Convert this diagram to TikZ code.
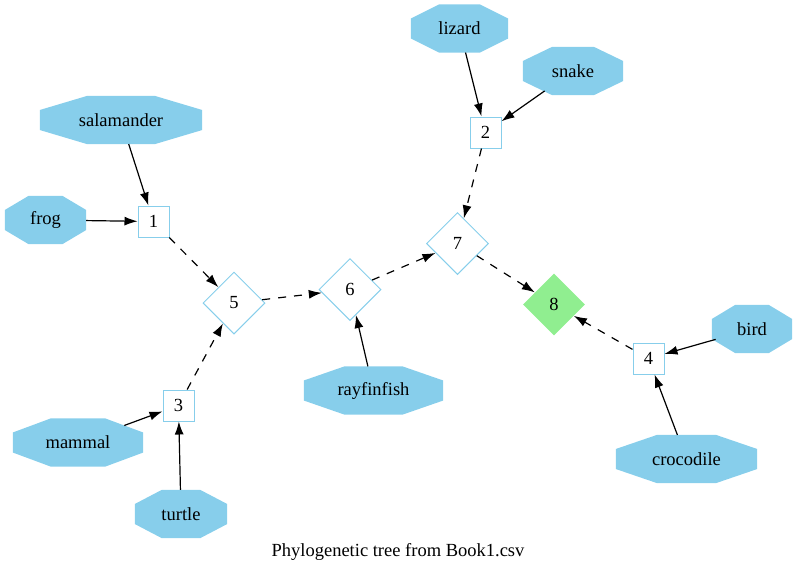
\documentclass[tikz,border=0pt]{standalone}
\usepackage{fontspec}
\setmainfont{Liberation Serif}
\usetikzlibrary{shapes.geometric,arrows.meta,calc}
\pgfdeclarelayer{background}
\pgfsetlayers{background,main}
\definecolor{sky}{HTML}{87CEEB}
\definecolor{lgreen}{HTML}{90EE90}
\begin{document}
\begin{tikzpicture}[x=1pt,y=-1pt,
  font=\fontsize{18.5}{21}\selectfont,
  leaf/.style={ellipse, inner sep=0pt, minimum width=#1, minimum height=48pt},
  box/.style={rectangle, draw=sky, line width=1pt, minimum size=31pt, inner sep=0pt},
  dia/.style={diamond, draw=sky, line width=1pt, minimum width=62pt, minimum height=62pt, inner sep=0pt},
  root/.style={diamond, fill=lgreen, minimum width=62pt, minimum height=62pt, inner sep=0pt},
  edge/.style={-{Latex[length=13pt,width=9pt]}, line width=1.2pt},
  dsh/.style={edge, dash pattern=on 8pt off 8pt}]
\useasboundingbox (0,0) rectangle (797,574);
% leaves
\node[leaf=97pt] (lizard) at (459.5,28.5) {lizard};
\node[leaf=100pt] (snake) at (573,71) {snake};
\node[leaf=162pt] (salamander) at (121,120) {salamander};
\node[leaf=81pt] (frog) at (45.5,220) {frog};
\node[leaf=130pt] (mammal) at (78,442.5) {mammal};
\node[leaf=92pt] (turtle) at (181,514) {turtle};
\node[leaf=139pt] (rayfinfish) at (373.5,390.5) {rayfinfish};
\node[leaf=80pt] (bird) at (752,329) {bird};
\node[leaf=141pt] (crocodile) at (686.5,459) {crocodile};
% internal
\node[box] (n1) at (153.5,221.5) {1};
\node[box] (n2) at (485.5,132.5) {2};
\node[box] (n3) at (178.5,405.5) {3};
\node[box] (n4) at (648.5,358.5) {4};
\node[dia] (n5) at (234,303) {5};
\node[dia] (n6) at (350,289.5) {6};
\node[dia] (n7) at (457.5,243.5) {7};
\node[root] (n8) at (554,304.5) {8};
\node (title) at (398,552) {Phylogenetic tree from Book1.csv};
% octagon fills
\def\fa{0.293}\def\fb{0.707}
\begin{pgfonlayer}{background}
\foreach \nm in {lizard,snake,salamander,frog,mammal,turtle,rayfinfish,bird,crocodile}{
  \fill[sky] let \p1=(\nm.west), \p2=(\nm.east), \p3=(\nm.north), \p4=(\nm.south) in
    ({\x1+\fa*(\x2-\x1)},\y3) -- ({\x1+\fb*(\x2-\x1)},\y3) --
    (\x2,{\y3+\fa*(\y4-\y3)}) -- (\x2,{\y3+\fb*(\y4-\y3)}) --
    ({\x1+\fb*(\x2-\x1)},\y4) -- ({\x1+\fa*(\x2-\x1)},\y4) --
    (\x1,{\y3+\fb*(\y4-\y3)}) -- (\x1,{\y3+\fa*(\y4-\y3)}) -- cycle;
}
\end{pgfonlayer}
% edges
\draw[edge] (lizard) -- (n2);
\draw[edge] (snake) -- (n2);
\draw[edge] (salamander) -- (n1);
\draw[edge] (frog) -- (n1);
\draw[edge] (mammal) -- (n3);
\draw[edge] (turtle) -- (n3);
\draw[edge] (bird) -- (n4);
\draw[edge] (crocodile) -- (n4);
\draw[edge] (rayfinfish) -- (n6);
\draw[dsh] (n1) -- (n5);
\draw[dsh] (n3) -- (n5);
\draw[dsh] (n5) -- (n6);
\draw[dsh] (n6) -- (n7);
\draw[dsh] (n2) -- (n7);
\draw[dsh] (n7) -- (n8);
\draw[dsh] (n4) -- (n8);
\end{tikzpicture}
\end{document}
